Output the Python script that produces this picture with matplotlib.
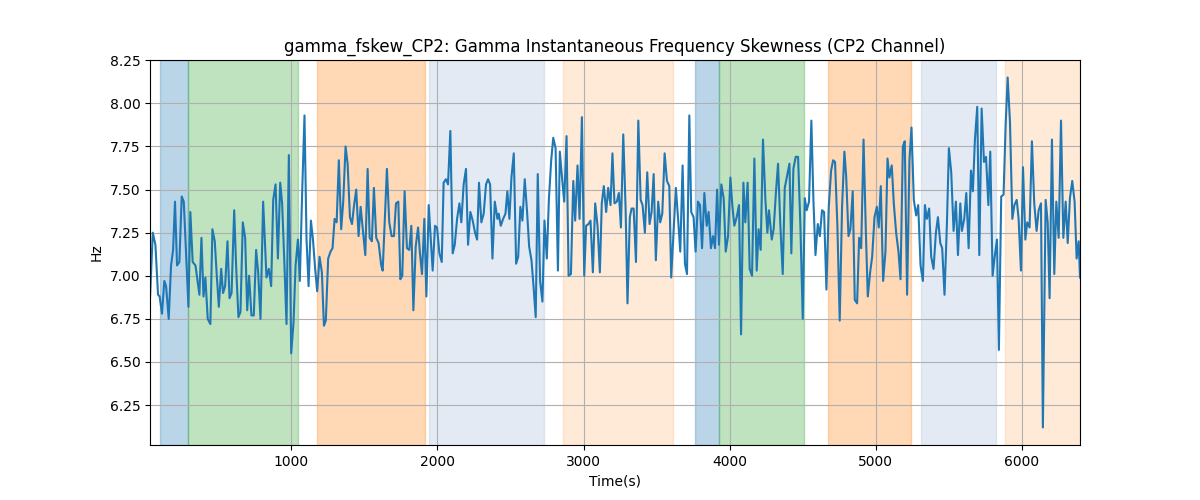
import matplotlib
matplotlib.use("Agg")
import matplotlib.pyplot as plt

# sample times (s) and skewness values
t_s = [34, 53, 71, 89, 100, 116, 132, 144, 162, 178, 192, 205, 219, 235, 251, 265,
       283, 297, 310, 326, 345, 372, 386, 400, 413, 429, 447, 461, 477, 491, 505,
       521, 534, 548, 564, 578, 592, 610, 623, 639, 653, 669, 685, 699, 712, 728,
       744, 760, 774, 790,
       808, 831, 847, 863, 877, 893, 909, 925, 938, 954, 968, 984, 1000, 1016,
       1030, 1046, 1059, 1075, 1091, 1105, 1119, 1135, 1149, 1164, 1178, 1194,
       1210, 1224, 1237, 1253, 1269, 1283, 1297, 1311, 1326, 1342, 1356, 1372,
       1386, 1402, 1416, 1429, 1445, 1461, 1475, 1491, 1507, 1523, 1537, 1552,
       1566, 1582, 1598, 1616,
       1626, 1655, 1671, 1687, 1703, 1717, 1733, 1747, 1760, 1776, 1792, 1808,
       1822, 1836, 1852, 1868, 1881, 1895, 1911, 1925, 1941, 1955, 1968, 1984,
       1998, 2014, 2030, 2043, 2059, 2073, 2089, 2105, 2119, 2135, 2151, 2164,
       2180, 2196, 2210, 2226, 2242, 2258, 2272, 2285, 2301, 2317, 2333, 2347,
       2361, 2377, 2393, 2406,
       2411, 2420, 2434, 2450, 2466, 2479, 2493, 2507, 2523, 2539, 2553, 2568,
       2582, 2598, 2614, 2628, 2644, 2658, 2673, 2687, 2703, 2719, 2733, 2749,
       2763, 2779, 2793, 2809, 2825, 2838, 2854, 2868, 2884, 2898, 2914, 2930,
       2943, 2959, 2973, 2989, 3005, 3018, 3034, 3048, 3064, 3080, 3096, 3112,
       3125, 3139, 3155, 3169, 3185, 3198,
       3212, 3228, 3242, 3256, 3272, 3288, 3301, 3317, 3329, 3343, 3359, 3375,
       3391, 3404, 3420, 3436, 3452, 3466, 3480, 3495, 3511, 3525, 3539, 3555,
       3571, 3587, 3600, 3616, 3632, 3648, 3662, 3678, 3694, 3708, 3724, 3737,
       3753, 3767, 3783, 3797, 3811, 3827, 3843, 3856, 3872, 3886, 3900, 3914,
       3927, 3943, 3959, 3973, 3989,
       4005, 4018, 4032, 4048, 4064, 4078, 4094, 4107, 4123, 4137, 4153, 4169,
       4185, 4198, 4212, 4228, 4244, 4258, 4269, 4288, 4301, 4317, 4331, 4347,
       4363, 4377, 4393, 4409, 4422, 4436, 4452, 4468, 4484, 4500, 4514, 4527,
       4543, 4559, 4573, 4587, 4603, 4617, 4632, 4646, 4662, 4678, 4694, 4708,
       4721, 4737, 4753, 4769, 4785,
       4797, 4813, 4826, 4842, 4856, 4872, 4886, 4900, 4916, 4932, 4945, 4961,
       4975, 4991, 5007, 5020, 5034, 5050, 5066, 5080, 5093, 5109, 5123, 5139,
       5155, 5169, 5185, 5198, 5214, 5230, 5244, 5260, 5276, 5290, 5306, 5322,
       5336, 5349, 5365, 5379, 5395, 5411, 5425, 5441, 5454, 5470, 5486, 5500,
       5516, 5532, 5548, 5562, 5578,
       5589, 5605, 5619, 5635, 5651, 5664, 5678, 5694, 5708, 5724, 5740, 5754,
       5770, 5783, 5799, 5813, 5829, 5842, 5858, 5874, 5888, 5902, 5918, 5934,
       5948, 5964, 5977, 5993, 6007, 6023, 6036, 6052, 6068, 6084, 6100, 6114,
       6130, 6143, 6162, 6176, 6189, 6205, 6221, 6235, 6251, 6267, 6283, 6299,
       6313, 6328, 6344, 6360, 6374, 6388, 6397]

fskew = [6.87, 7.25, 7.18, 6.89, 6.88, 6.78, 6.97, 6.94, 6.75, 7.06, 7.15, 7.43,
         7.06, 7.08, 7.46, 7.43, 7.09, 6.82, 7.37, 7.08, 7.06, 6.89, 7.22, 6.88,
         6.99, 6.75, 6.72, 7.27, 7.20, 7.00, 6.82, 7.04, 6.90, 6.94, 7.20, 6.87,
         6.90, 7.38, 7.06, 6.76, 6.79, 7.31, 7.22, 6.80, 7.00, 6.77, 6.77, 7.15,
         7.02, 6.75,
         7.43, 6.99, 7.04, 6.94, 7.44, 7.53, 7.10, 7.54, 7.42, 7.06, 6.72, 7.70,
         6.55, 6.73, 7.06, 7.21, 6.97, 7.48, 7.93, 7.21, 6.94, 7.32, 7.21, 7.04,
         6.91, 7.11, 7.02, 6.71, 6.74, 7.10, 7.14, 7.16, 7.33, 7.31, 7.67, 7.27,
         7.43, 7.75, 7.65, 7.34, 7.30, 7.40, 7.50, 7.23, 7.40, 7.26, 7.12, 7.62,
         7.22, 7.20, 7.51, 7.22, 7.19, 7.06,
         7.03, 7.62, 7.31, 7.23, 7.23, 7.42, 7.43, 6.98, 7.00, 7.49, 7.16, 7.15,
         7.29, 6.80, 7.17, 7.28, 7.13, 7.01, 7.33, 6.88, 7.41, 7.21, 7.03, 7.29,
         7.28, 7.13, 7.08, 7.54, 7.56, 7.53, 7.84, 7.13, 7.18, 7.33, 7.42, 7.31,
         7.53, 7.62, 7.18, 7.37, 7.32, 7.25, 7.21, 7.54, 7.31, 7.36, 7.53, 7.56,
         7.53, 7.10, 7.43, 7.36,
         7.33, 7.36, 7.29, 7.33, 7.36, 7.49, 7.33, 7.57, 7.71, 7.07, 7.11, 7.40,
         7.32, 7.56, 7.37, 7.17, 7.09, 6.94, 6.76, 7.59, 6.97, 6.85, 7.32, 7.10,
         7.44, 7.67, 7.80, 7.74, 7.03, 7.72, 7.56, 7.43, 7.81, 7.00, 7.01, 7.55,
         7.32, 7.64, 7.33, 7.92, 7.00, 7.29, 7.30, 7.32, 7.02, 7.42, 7.29, 7.02,
         7.42, 7.52, 7.37, 7.51, 7.41, 7.71,
         7.42, 7.43, 7.48, 7.28, 7.82, 7.39, 6.84, 7.34, 7.39, 7.39, 7.08, 7.90,
         7.44, 7.41, 7.25, 7.60, 7.30, 7.37, 7.59, 7.09, 7.43, 7.31, 7.36, 7.71,
         7.55, 7.52, 6.99, 7.25, 7.51, 7.32, 7.14, 7.64, 7.07, 7.01, 7.93, 7.37,
         7.34, 7.14, 7.43, 7.41, 7.16, 7.48, 7.29, 7.37, 7.16, 7.23, 7.16, 7.50,
         7.18, 7.53, 7.45, 7.14, 7.23,
         7.57, 7.41, 7.29, 7.34, 7.41, 6.66, 7.54, 7.31, 7.54, 7.04, 7.00, 7.68,
         7.03, 7.27, 7.15, 7.79, 7.45, 7.25, 7.38, 7.21, 7.27, 7.49, 7.65, 7.29,
         7.01, 7.51, 7.58, 7.65, 7.13, 7.62, 7.69, 7.69, 7.29, 6.75, 7.45, 7.38,
         7.43, 7.90, 7.44, 7.12, 7.30, 7.23, 7.38, 7.37, 6.92, 7.40, 7.61, 7.67,
         7.66, 7.29, 6.74, 7.40, 7.72,
         7.58, 7.23, 7.27, 7.49, 6.86, 6.84, 7.22, 7.16, 7.79, 7.25, 6.88, 7.02,
         7.11, 7.34, 7.40, 7.28, 7.52, 6.97, 7.14, 7.68, 7.57, 7.64, 7.42, 7.25,
         7.14, 6.98, 7.75, 7.78, 6.89, 7.67, 7.86, 7.44, 7.35, 7.41, 7.06, 6.97,
         7.41, 7.33, 7.39, 7.11, 7.04, 7.25, 7.34, 7.19, 7.16, 6.89, 7.29, 7.74,
         7.60, 7.26, 7.43, 7.12, 7.42,
         7.26, 7.33, 7.48, 7.16, 7.61, 7.49, 7.79, 7.98, 7.12, 7.97, 7.66, 7.69,
         7.41, 7.72, 7.00, 7.11, 7.21, 6.57, 7.46, 7.47, 7.87, 8.15, 7.89, 7.33,
         7.41, 7.44, 7.33, 7.03, 7.63, 7.21, 7.31, 7.28, 7.78, 7.42, 7.26, 7.38,
         7.42, 6.12, 7.44, 7.31, 6.87, 7.79, 7.01, 7.43, 7.22, 7.90, 7.22, 7.43,
         7.19, 7.45, 7.55, 7.43, 7.10, 7.20, 6.99]

# shaded segments: (start, end, colour, alpha)
span_start = [103, 295, 1178, 1945, 2863, 3760, 3925, 4671, 5308, 5884]
span_end = [295, 1048, 1918, 2733, 3610, 3925, 4507, 5240, 5822, 6400]
span_color = ["tab:blue", "tab:green", "tab:orange", "lightsteelblue", "tab:orange",
              "tab:blue", "tab:green", "tab:orange", "lightsteelblue", "tab:orange"]
span_alpha = [0.3, 0.3, 0.3, 0.35, 0.16, 0.3, 0.3, 0.3, 0.35, 0.16]

fig, ax = plt.subplots(figsize=(12, 5), dpi=100)

for s, e, c, a in zip(span_start, span_end, span_color, span_alpha):
    ax.axvspan(s, e, color=c, alpha=a)

ax.plot(t_s, fskew, color="tab:blue", linewidth=1.5)

ax.set_xlim(t_s[0], t_s[-1])
ax.set_title("gamma_fskew_CP2: Gamma Instantaneous Frequency Skewness (CP2 Channel)")
ax.set_xlabel("Time(s)")
ax.set_ylabel("Hz")
ax.grid(True)

fig.savefig("out.png")
